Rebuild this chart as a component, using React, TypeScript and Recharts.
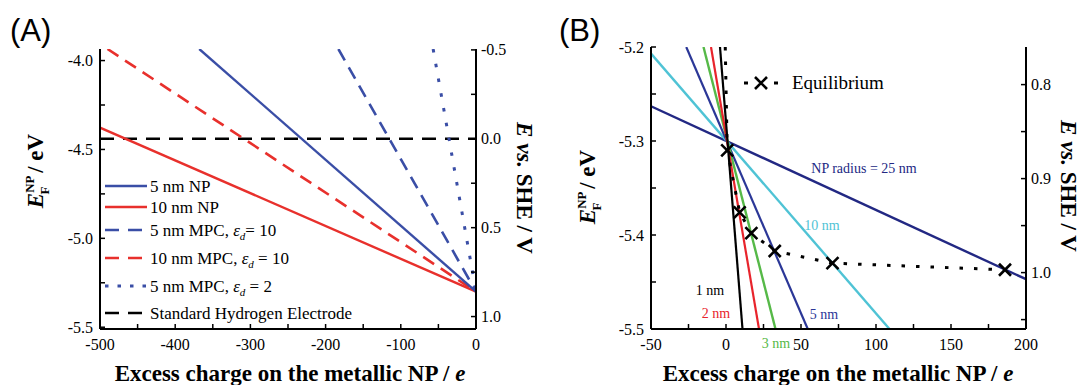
import React from "react";
import { LineChart, Line, XAxis, YAxis } from "recharts";

const SERIF = "'Liberation Serif', 'Times New Roman', serif";
const SANS = "'Liberation Sans', Arial, sans-serif";

// ---- panel A : Fermi level vs excess charge (q in e, ef in eV, she in V) ----
const np5A = [{ q: -368, ef: -3.935 }, { q: 0, ef: -5.3 }];
const np10A = [{ q: -500, ef: -4.377 }, { q: 0, ef: -5.3 }];
const mpc5e10A = [{ q: -183, ef: -3.935 }, { q: 0, ef: -5.3 }];
const mpc10e10A = [{ q: -490, ef: -3.935 }, { q: 0, ef: -5.3 }];
const mpc5e2A = [{ q: -57, ef: -3.935 }, { q: 0, ef: -5.3 }];
const sheA = [{ q: -500, v: 0 }, { q: 0, v: 0 }];

const qTicksA = [-500, -400, -300, -200, -100, 0];
const qMinorA = [-450, -350, -250, -150, -50];
const efTicksA = [-4.0, -4.5, -5.0, -5.5];
const efMinorA = [-4.25, -4.75, -5.25];
const sheTicksA = [-0.5, 0.0, 0.5, 1.0];
const sheMinorA = [-0.25, 0.25, 0.75];

// ---- panel B : different NP radii + equilibrium points ----
const r1B = [{ q: -4, ef: -5.2 }, { q: 11, ef: -5.5 }];
const r2B = [{ q: -10, ef: -5.2 }, { q: 22, ef: -5.5 }];
const r3B = [{ q: -15, ef: -5.2 }, { q: 33, ef: -5.5 }];
const r5B = [{ q: -26.5, ef: -5.2 }, { q: 54.5, ef: -5.5 }];
const r10B = [{ q: -50, ef: -5.207 }, { q: 109, ef: -5.5 }];
const r25B = [{ q: -50, ef: -5.263 }, { q: 200, ef: -5.447 }];
const eqCurveB = [
  { q: -0.5, ef: -5.2 },
  { q: 0.8, ef: -5.31 },
  { q: 9.1, ef: -5.376 },
  { q: 16.9, ef: -5.398 },
  { q: 32.5, ef: -5.417 },
  { q: 71, ef: -5.43 },
  { q: 186, ef: -5.437 },
];
const eqMarksB = [
  { q: 0.8, ef: -5.31 },
  { q: 9.1, ef: -5.376 },
  { q: 16.9, ef: -5.398 },
  { q: 32.5, ef: -5.417 },
  { q: 71, ef: -5.43 },
  { q: 186, ef: -5.437 },
];

const qTicksB = [-50, 0, 50, 100, 150, 200];
const qMinorB = [-25, 25, 75, 125, 175];
const efTicksB = [-5.2, -5.3, -5.4, -5.5];
const efMinorB = [-5.25, -5.35, -5.45];
const sheTicksB = [0.8, 0.9, 1.0];
const sheMinorB = [0.85, 0.95, 1.05];

const blueA = "#3a4ea6";
const redA = "#e8302c";
const navy = "#222883";
const blue5 = "#2b3797";
const cyan = "#4fc3d5";
const green = "#56b948";
const redB = "#e8242c";

const axisStyle = { stroke: "#000", strokeWidth: 2 };
const tickText: React.CSSProperties = { fontFamily: SERIF, fontSize: 16, fill: "#000" };

type Side = "left" | "right" | "bottom" | "top";

function makeTick(side: Side, majors: number[], digits: number) {
  return function Tick(props: any) {
    const { x, y, payload } = props;
    const v = Number(payload.value);
    const major = majors.some((m) => Math.abs(m - v) < 1e-6);
    const len = 5;
    const lbl = major ? v.toFixed(digits) : null;
    const st = { stroke: "#000", strokeWidth: 1.5 };
    if (side === "bottom")
      return (
        <g>
          <line x1={x} y1={y} x2={x} y2={y - len} {...st} />
          {lbl && <text x={x} y={y + 21} textAnchor="middle" style={tickText}>{lbl}</text>}
        </g>
      );
    if (side === "top")
      return (
        <g>
          <line x1={x} y1={y} x2={x} y2={y + len} {...st} />
        </g>
      );
    if (side === "left")
      return (
        <g>
          <line x1={x} y1={y} x2={x + len} y2={y} {...st} />
          {lbl && <text x={x - 7} y={y + 5.5} textAnchor="end" style={tickText}>{lbl}</text>}
        </g>
      );
    return (
      <g>
        <line x1={x} y1={y} x2={x - len} y2={y} {...st} />
        {lbl && <text x={x + 5} y={y + 5.5} textAnchor="start" style={tickText}>{lbl}</text>}
      </g>
    );
  };
}

function Cross(props: any) {
  const { cx, cy } = props;
  const s = 6;
  return (
    <path
      d={`M${cx - s},${cy - s}L${cx + s},${cy + s}M${cx - s},${cy + s}L${cx + s},${cy - s}`}
      stroke="#000"
      strokeWidth={2.6}
      fill="none"
    />
  );
}

const common = { tickSize: 0, tickMargin: 0, tickLine: false, axisLine: axisStyle, interval: 0 as const, allowDataOverflow: true };

function PanelA() {
  return (
    <LineChart width={540} height={385} margin={{ top: 49, right: 14, bottom: 26, left: 40 }}>
      <XAxis xAxisId="q" dataKey="q" type="number" domain={[-500, 0]} ticks={[...qTicksA, ...qMinorA]} height={30} tick={makeTick("bottom", qTicksA, 0)} {...common} />
      <XAxis xAxisId="top" orientation="top" type="number" domain={[-500, 0]} ticks={[...qTicksA, ...qMinorA]} height={0} tick={makeTick("top", [], 0)} {...common} />
      <YAxis yAxisId="ef" type="number" domain={[-5.51, -3.935]} ticks={[...efTicksA, ...efMinorA]} width={60} tick={makeTick("left", efTicksA, 1)} {...common} />
      <YAxis yAxisId="she" orientation="right" type="number" domain={[-0.505, 1.07]} reversed ticks={[...sheTicksA, ...sheMinorA]} width={50} tick={makeTick("right", sheTicksA, 1)} {...common} />
      <Line xAxisId="q" yAxisId="she" data={sheA} dataKey="v" stroke="#000" strokeWidth={2.6} strokeDasharray="14 9" dot={false} isAnimationActive={false} />
      <Line xAxisId="q" yAxisId="ef" data={np10A} dataKey="ef" stroke={redA} strokeWidth={2.4} dot={false} isAnimationActive={false} />
      <Line xAxisId="q" yAxisId="ef" data={mpc10e10A} dataKey="ef" stroke={redA} strokeWidth={2.6} strokeDasharray="13 8" dot={false} isAnimationActive={false} />
      <Line xAxisId="q" yAxisId="ef" data={np5A} dataKey="ef" stroke={blueA} strokeWidth={2.4} dot={false} isAnimationActive={false} />
      <Line xAxisId="q" yAxisId="ef" data={mpc5e10A} dataKey="ef" stroke={blueA} strokeWidth={2.6} strokeDasharray="13 8" dot={false} isAnimationActive={false} />
      <Line xAxisId="q" yAxisId="ef" data={mpc5e2A} dataKey="ef" stroke={blueA} strokeWidth={3} strokeDasharray="3.5 11.5" dot={false} isAnimationActive={false} />
    </LineChart>
  );
}

function PanelB() {
  return (
    <LineChart width={542} height={385} margin={{ top: 47, right: 6, bottom: 26, left: 51 }}>
      <XAxis xAxisId="q" dataKey="q" type="number" domain={[-50, 200]} ticks={[...qTicksB, ...qMinorB]} height={30} tick={makeTick("bottom", qTicksB, 0)} {...common} />
      <XAxis xAxisId="top" orientation="top" type="number" domain={[-50, 200]} ticks={[...qTicksB, ...qMinorB]} height={0} tick={makeTick("top", [], 0)} {...common} />
      <YAxis yAxisId="ef" type="number" domain={[-5.5, -5.2]} ticks={[...efTicksB, ...efMinorB]} width={60} tick={makeTick("left", efTicksB, 1)} {...common} />
      <YAxis yAxisId="she" orientation="right" type="number" domain={[0.76, 1.06]} reversed ticks={[...sheTicksB, ...sheMinorB]} width={50} tick={makeTick("right", sheTicksB, 1)} {...common} />
      <Line xAxisId="q" yAxisId="ef" data={r25B} dataKey="ef" stroke={navy} strokeWidth={2.4} dot={false} isAnimationActive={false} />
      <Line xAxisId="q" yAxisId="ef" data={r10B} dataKey="ef" stroke={cyan} strokeWidth={2.4} dot={false} isAnimationActive={false} />
      <Line xAxisId="q" yAxisId="ef" data={r5B} dataKey="ef" stroke={blue5} strokeWidth={2.2} dot={false} isAnimationActive={false} />
      <Line xAxisId="q" yAxisId="ef" data={r3B} dataKey="ef" stroke={green} strokeWidth={2.4} dot={false} isAnimationActive={false} />
      <Line xAxisId="q" yAxisId="ef" data={r2B} dataKey="ef" stroke={redB} strokeWidth={2.2} dot={false} isAnimationActive={false} />
      <Line xAxisId="q" yAxisId="ef" data={r1B} dataKey="ef" stroke="#000" strokeWidth={2.2} dot={false} isAnimationActive={false} />
      <Line xAxisId="q" yAxisId="ef" data={eqCurveB} dataKey="ef" stroke="#000" strokeWidth={3} strokeDasharray="3.5 11" dot={false} isAnimationActive={false} />
      <Line
        xAxisId="q"
        yAxisId="ef"
        data={eqMarksB}
        dataKey="ef"
        stroke="none"
        dot={(p: any) => <Cross key={`x${p.index}`} cx={p.cx} cy={p.cy} />}
        isAnimationActive={false}
      />
    </LineChart>
  );
}

const bold: React.CSSProperties = { fontFamily: SERIF, fontSize: 23, fontWeight: 700, fill: "#000" };
const leg: React.CSSProperties = { fontFamily: SERIF, fontSize: 17, fill: "#000" };
const note: React.CSSProperties = { fontFamily: SERIF, fontSize: 14 };

function EfLabel({ x, y }: { x: number; y: number }) {
  return (
    <text transform={`translate(${x},${y}) rotate(-90)`} textAnchor="middle" style={bold}>
      <tspan fontStyle="italic">E</tspan>
      <tspan fontSize={13} dy={-9}>NP</tspan>
      <tspan fontSize={13} dx={-19} dy={15}>F</tspan>
      <tspan dx={8} dy={-6}> / eV</tspan>
    </text>
  );
}

function SheLabel({ x, y }: { x: number; y: number }) {
  return (
    <text transform={`translate(${x},${y}) rotate(90)`} textAnchor="middle" style={bold}>
      <tspan fontStyle="italic">E</tspan>
      <tspan fontStyle="italic"> vs.</tspan>
      <tspan> SHE / V</tspan>
    </text>
  );
}

const legendRows = [
  { label: "5 nm NP", eps: "", color: blueA, dash: undefined, w: 2.4, y: 186 },
  { label: "10 nm NP", eps: "", color: redA, dash: undefined, w: 2.4, y: 207 },
  { label: "5 nm MPC, ", eps: "= 10", color: blueA, dash: "14 9", w: 2.6, y: 230 },
  { label: "10 nm MPC, ", eps: " = 10", color: redA, dash: "14 9", w: 2.6, y: 258 },
  { label: "5 nm MPC, ", eps: " = 2", color: blueA, dash: "3.5 9", w: 3, y: 286 },
  { label: "Standard Hydrogen Electrode", eps: "", color: "#000", dash: "14 9", w: 2.6, y: 313 },
];

function Overlay() {
  return (
    <svg width={1082} height={385} style={{ position: "absolute", left: 0, top: 0, pointerEvents: "none" }}>
      <text x={10} y={41} style={{ fontFamily: SANS, fontSize: 31, fill: "#000" }}>(A)</text>
      <text x={559} y={41} style={{ fontFamily: SANS, fontSize: 31, fill: "#000" }}>(B)</text>

      <text x={290} y={381} textAnchor="middle" style={bold}>
        Excess charge on the metallic NP / <tspan fontStyle="italic">e</tspan>
      </text>
      <text x={838} y={381} textAnchor="middle" style={bold}>
        Excess charge on the metallic NP / <tspan fontStyle="italic">e</tspan>
      </text>

      <EfLabel x={43} y={171} />
      <EfLabel x={595} y={187} />
      <SheLabel x={517} y={188} />
      <SheLabel x={1061} y={186} />

      {legendRows.map((r) => (
        <g key={r.label + r.y}>
          <line x1={105} x2={147} y1={r.y} y2={r.y} stroke={r.color} strokeWidth={r.w} strokeDasharray={r.dash} />
          <text x={150} y={r.y + 6} style={leg}>
            {r.label}
            {r.eps !== "" && (
              <>
                <tspan fontStyle="italic">ε</tspan>
                <tspan fontSize={11} fontStyle="italic" dy={4}>d</tspan>
                <tspan dy={-4}>{r.eps}</tspan>
              </>
            )}
          </text>
        </g>
      ))}

      <line x1={744} x2={748} y1={83} y2={83} stroke="#000" strokeWidth={3} />
      <line x1={774} x2={778} y1={83} y2={83} stroke="#000" strokeWidth={3} />
      <Cross cx={761} cy={83} />
      <text x={792} y={89} style={{ fontFamily: SERIF, fontSize: 19, fill: "#000" }}>Equilibrium</text>

      <text x={864} y={173} textAnchor="middle" style={{ ...note, fill: navy }}>NP radius = 25 nm</text>
      <text x={822} y={230} textAnchor="middle" style={{ ...note, fill: cyan }}>10 nm</text>
      <text x={824} y={319} textAnchor="middle" style={{ ...note, fill: blue5 }}>5 nm</text>
      <text x={776} y={348} textAnchor="middle" style={{ ...note, fill: green }}>3 nm</text>
      <text x={716} y={318} textAnchor="middle" style={{ ...note, fill: redB }}>2 nm</text>
      <text x={710} y={295} textAnchor="middle" style={{ ...note, fill: "#000" }}>1 nm</text>
    </svg>
  );
}

export default function App() {
  return (
    <div style={{ position: "absolute", left: 0, top: 0, width: 1082, height: 385, background: "#fff" }}>
      <div style={{ position: "absolute", left: 0, top: 0 }}>
        <PanelA />
      </div>
      <div style={{ position: "absolute", left: 540, top: 0 }}>
        <PanelB />
      </div>
      <Overlay />
    </div>
  );
}
